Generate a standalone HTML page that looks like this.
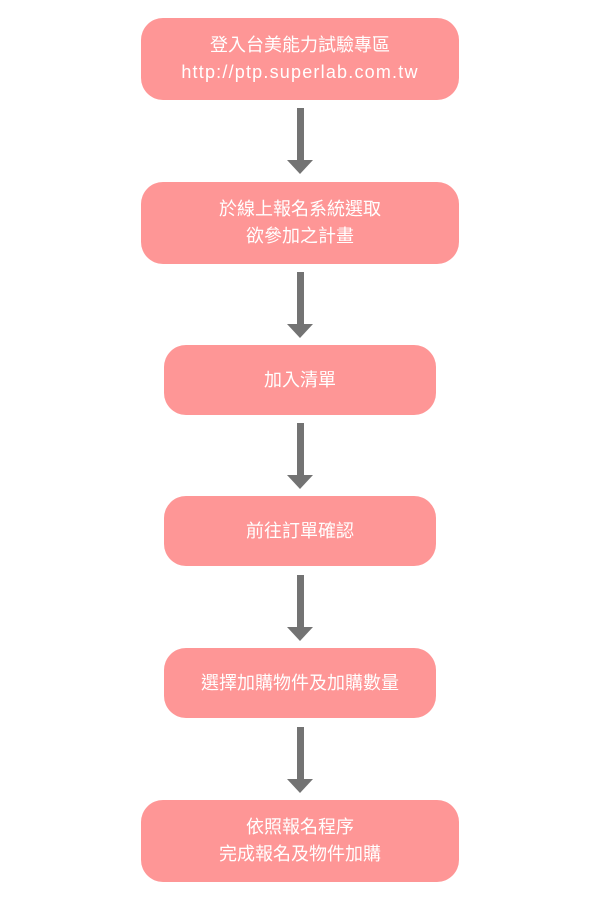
<!DOCTYPE html>
<html><head><meta charset="utf-8"><style>
body{margin:0;width:600px;height:900px;background:#fff;position:relative;font-family:"Liberation Sans","Noto Sans CJK TC",sans-serif;}
.b{position:absolute;background:#fe9696;border-radius:22px;color:#fff;font-size:18px;line-height:27px;display:flex;align-items:center;justify-content:center;text-align:center;}
.w{left:141px;width:318px;height:82px;}
.n{left:164px;width:272px;height:70px;}
.u{letter-spacing:1.2px}
svg{position:absolute;left:0;top:0}
</style></head><body>
<div class="b w" style="top:18px"><div>登入台美能力試驗專區<br><span class="u">http://ptp.superlab.com.tw</span></div></div>
<div class="b w" style="top:182px">於線上報名系統選取<br>欲參加之計畫</div>
<div class="b n" style="top:345px">加入清單</div>
<div class="b n" style="top:496px">前往訂單確認</div>
<div class="b n" style="top:648px">選擇加購物件及加購數量</div>
<div class="b w" style="top:800px">依照報名程序<br>完成報名及物件加購</div>
<svg width="600" height="900" fill="#737373">
<g id="a"><rect x="297" y="108" width="7" height="53"/><polygon points="287,160 313,160 300,174"/></g>
<use href="#a" y="164"/>
<use href="#a" y="315"/>
<use href="#a" y="467"/>
<use href="#a" y="619"/>
</svg>
</body></html>
